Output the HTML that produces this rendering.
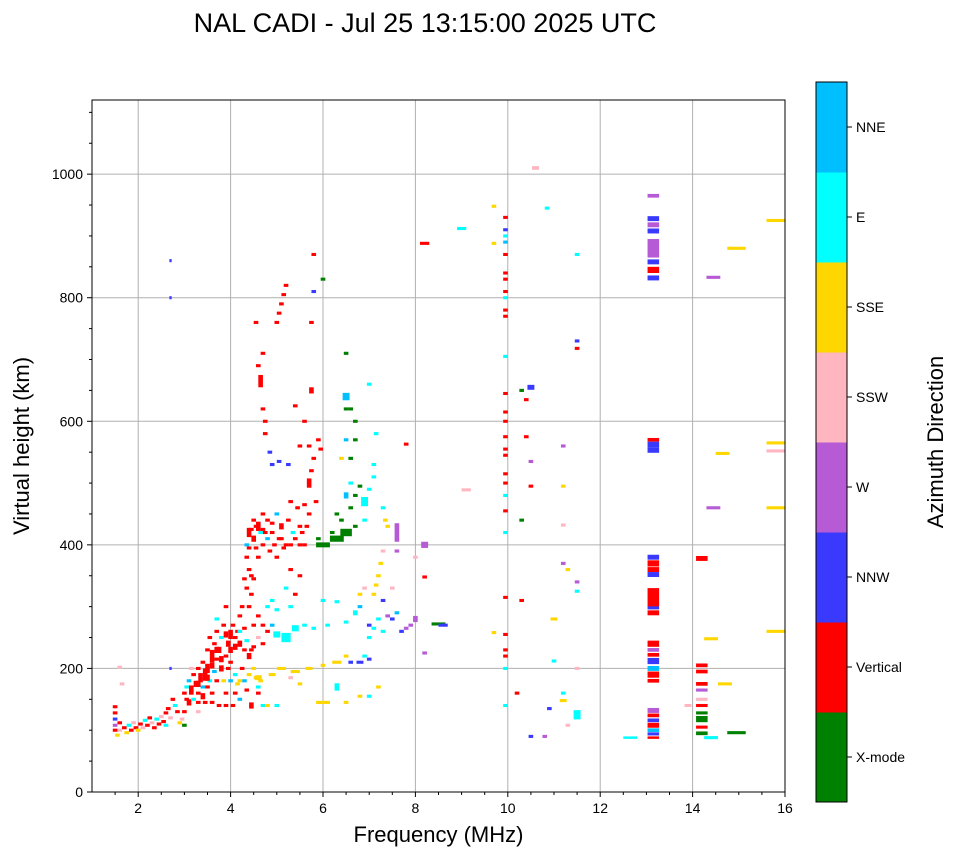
<!DOCTYPE html>
<html><head><meta charset="utf-8"><style>
body{margin:0;background:#fff}
svg{display:block;font-family:"Liberation Sans","DejaVu Sans",sans-serif}
</style></head><body>
<svg id="chart" width="958" height="857" viewBox="0 0 958 857" xmlns="http://www.w3.org/2000/svg">
<text x="425" y="32" font-size="27" text-anchor="middle">NAL CADI - Jul 25 13:15:00 2025 UTC</text>
<g id="grid"></g>
<g id="marks"></g>
<g id="axes"></g>
<g id="cbar"></g>
</svg>
<script>
const xTicks=[2,4,6,8,10,12,14,16];
const yTicks=[0,200,400,600,800,1000];
const dirNames=["X-mode","Vertical","NNW","W","SSW","SSE","E","NNE"];
const dirColors=["#008000","#ff0000","#3a3aff","#b65ad6","#ffb6c1","#ffd700","#00ffff","#00bfff"];
// echoes: freq(MHz) height(km) dirIndex [widthMHz] [heightSpanKm]
const echoRows=`1.5 100 1;1.5 108 3;1.5 118 2;1.5 128 1;1.5 138 1;1.55 92 5;1.6 100 4;1.6 112 1;1.7 104 1;1.75 96 5;1.8 108 6;1.85 100 1;1.9 112 4;1.95 104 1;2.0 100 5;2.05 110 1;2.1 104 4;2.15 116 6;2.2 108 1;2.25 120 1;2.3 112 4;2.35 104 1;2.4 118 6;2.45 110 1;2.5 122 4;2.55 114 1;2.6 128 1;2.6 108 6;2.65 135 1;2.7 120 4;2.75 150 1;2.8 140 6;2.85 130 1;2.9 112 5;2.95 118 4;3.0 130 1;3.0 108 0;3.0 160 1;3.05 150 1;3.05 170 6;3.1 145 1 0.1 10;3.1 180 7;3.15 165 1 0.1 15;3.2 190 1;3.2 150 6;3.25 175 1 0.1 10;3.3 200 1;3.3 160 1;3.3 130 4;3.35 185 1 0.1 15;3.4 210 1;3.4 170 7;3.45 190 1 0.1 20;3.45 145 1;3.5 230 1;3.5 200 1 0.1 15;3.5 170 1;3.55 250 1;3.55 180 6;3.6 220 1 0.1 20;3.6 160 1;3.65 240 1;3.65 195 7;3.7 260 1;3.7 215 1;3.7 180 1;3.75 230 1 0.1 10;3.75 140 1;3.8 200 1 0.1 10;3.8 250 6;3.85 180 5;3.85 270 1;3.9 220 1;3.9 160 1;3.95 240 1 0.1 10;4.0 255 1 0.1 15;4.0 210 1;4.0 180 7;4.05 270 1;4.05 140 1;4.1 235 1 0.1 10;4.1 190 6;4.15 260 1;4.15 175 5;4.2 285 1;4.2 240 1 0.1 10;4.2 150 7;4.25 300 1;4.25 200 1;4.3 265 1;4.3 180 7;4.35 245 6;4.35 165 1;4.4 220 1 0.1 10;4.4 190 5;4.45 230 1;4.45 140 1 0.1 10;4.5 200 5;4.5 270 1;4.55 185 5;4.6 160 1;4.6 250 4;4.65 180 5;4.7 140 6;4.7 270 1;3.3 175 1 0.1 10;3.4 155 1 0.1 10;3.5 185 1 0.1 10;3.6 205 1 0.1 10;3.7 230 1 0.1 10;3.8 215 1 0.1 10;3.9 255 1 0.1 10;3.95 200 1;4.0 230 1 0.1 10;4.1 250 1;4.1 160 1;4.2 260 6;4.3 230 1;4.5 235 1;4.6 285 1;4.7 240 1;4.8 260 1;4.9 270 7;3.3 145 1;3.6 145 1;3.9 140 1;4.2 180 5;4.6 170 6;4.35 330 1;4.35 380 1;4.35 400 7;4.4 420 1 0.1 15;4.4 360 1;4.45 350 1;4.5 440 1;4.5 410 1 0.1 10;4.55 395 1;4.6 430 1 0.1 15;4.6 380 1;4.65 420 6;4.7 400 1;4.7 450 1;4.75 420 1;4.8 410 7;4.8 440 1;4.85 390 1;4.9 420 1;4.95 400 1;5.0 450 7;5.0 380 1;5.05 410 1;5.1 430 1 0.1 10;5.15 395 1;5.2 400 1;5.25 440 1;5.3 470 1;5.35 420 6;5.4 410 1;5.45 460 1;5.5 430 1;5.55 420 1;5.6 400 1;5.65 430 1;5.7 500 1 0.1 15;5.7 450 1;5.75 520 1;5.8 540 1;5.85 470 1;5.6 465 1;5.3 360 1;5.5 350 1;5.2 330 6;5.4 320 1;4.45 425 1;4.55 430 1;4.7 425 1;4.9 435 1;5.1 410 1;5.3 400 1;5.5 400 1;4.4 300 1;4.45 320 1;4.5 345 1;4.4 395 1;4.3 345 1;4.55 760 1;4.6 690 1;4.65 665 1 0.1 20;4.7 620 1;4.75 600 1;4.75 580 1;4.7 710 1;4.85 550 2;5.0 760 1;5.05 775 1;5.1 790 1;5.15 805 1;5.2 820 1;5.4 625 1;5.6 600 1;5.75 650 1 0.1 10;5.75 760 1;5.8 810 2;5.8 870 1;5.7 560 1;5.9 570 1;5.05 535 2;5.25 530 2;4.9 530 2;5.5 560 1;5.95 555 1;5.0 255 6 0.15 10;5.2 250 6 0.2 15;5.4 265 6 0.15 10;5.6 270 6;5.8 265 6;5.0 295 6;5.3 300 6;4.8 300 6;4.9 310 6;4.6 185 5 0.15 8;4.9 190 5 0.15;5.1 200 5 0.2;5.4 195 5 0.2;5.7 200 5 0.15;6.0 205 5;6.3 210 5 0.2;6.6 210 2;6.8 210 2 0.15;7.0 215 2;6.5 220 5;5.5 175 5;5.3 185 4;4.8 140 5;5.0 140 6;6.0 145 5 0.3;6.5 145 5;6.8 155 5;7.0 155 6;7.2 170 5;6.3 170 6 0.1 12;6.0 310 6;6.3 308 6;6.1 270 6;6.5 275 6;6.7 290 6 0.1 8;6.8 300 7;7.0 270 2;7.1 265 6;7.0 250 6;6.9 220 6;7.2 280 6;7.3 260 6;7.1 320 5;7.15 335 5;7.2 350 5;7.25 370 5;7.3 390 4;7.35 440 5;7.4 430 5;7.3 460 6;6.8 320 5;6.9 330 4;7.3 310 2;7.4 285 3;7.5 280 2;7.6 420 3 0.1 30;7.6 390 3;7.5 330 4;7.6 290 7;7.8 265 3;7.9 270 3;8.0 280 3 0.1 10;8.2 400 3 0.15 10;8.5 272 0 0.3;8.6 270 2 0.2;8.2 225 3;7.7 260 2;6.0 400 0 0.3 8;6.3 410 0 0.3 10;6.5 420 0 0.25 12;6.7 430 0;6.4 440 0;6.6 460 0;6.7 480 0;6.8 495 0;6.6 540 0;6.7 570 0;6.7 600 0;6.6 620 0;6.5 640 7 0.15 12;6.5 570 7;6.5 620 0;6.5 710 0;6.0 830 0;6.3 450 0;6.9 440 6;6.9 470 6 0.15 15;7.0 490 6;7.1 530 6;7.15 580 6;7.1 510 6;6.5 480 7 0.1 10;6.6 500 6;6.2 420 0;7.0 660 6;6.4 540 5;5.9 410 0;7.8 563 1;8.2 888 1 0.2;8.2 348 1;8.0 380 4;9.0 912 6 0.2;9.1 489 4 0.2;9.7 948 5;9.7 888 5;9.7 258 5;9.95 930 1;9.95 910 2;9.95 900 6;9.95 890 7;9.95 870 1;9.95 840 1;9.95 830 1;9.95 810 1;9.95 800 6;9.95 780 1;9.95 770 1;9.95 705 6;9.95 645 1;9.95 615 1;9.95 600 1;9.95 575 1;9.95 555 1;9.95 545 1;9.95 515 1;9.95 500 1;9.95 480 6;9.95 455 1;9.95 420 6;9.95 315 1;9.95 255 1;9.95 230 1;9.95 220 1;9.95 200 6;9.95 140 6;10.3 310 1;10.3 440 0;10.2 160 1;10.3 650 0;10.4 635 1;10.4 575 1;10.5 655 2 0.15 8;10.6 1010 4 0.15 6;10.5 535 3;10.5 495 1;10.5 90 2;10.8 90 3;10.85 945 6;10.9 135 2;11.0 212 6;11.2 560 3;11.2 495 5;11.2 432 4;11.2 370 3;11.3 360 5;11.0 280 5 0.15;11.2 160 6;11.2 148 5 0.15;11.3 108 4;11.5 340 3;11.5 325 6;11.5 200 4;11.5 870 6;11.5 730 2;11.5 718 1;11.5 125 6 0.15 15;12.65 88 6 0.3 4;14.45 460 3 0.3;14.45 833 3 0.3;14.4 248 5 0.3;14.4 88 6 0.3;14.7 175 5 0.3;14.95 880 5 0.4;14.95 96 0 0.4;15.8 925 5 0.4;15.8 565 5 0.4;15.8 552 4 0.4;15.8 460 5 0.4;15.8 260 5 0.4;14.65 548 5 0.3;13.9 140 4 0.15;13.15 965 3 0.25 6;13.15 928 2 0.25 8;13.15 918 3 0.25 8;13.15 908 2 0.25 8;13.15 880 3 0.25 30;13.15 858 2 0.25 8;13.15 845 1 0.25 10;13.15 832 2 0.25 8;13.15 570 1 0.25 6;13.15 562 2 0.25 10;13.15 553 2 0.25 8;13.15 380 2 0.25 8;13.15 370 1 0.25 10;13.15 360 1 0.25 8;13.15 352 2 0.25 8;13.15 315 1 0.25 30;13.15 298 2 0.25 5;13.15 290 1 0.25 8;13.15 240 1 0.25 10;13.15 230 3 0.25 6;13.15 222 1 0.25 6;13.15 212 2 0.25 10;13.15 200 7 0.25 8;13.15 190 1 0.25 10;13.15 180 1 0.25 6;13.15 132 3 0.25 8;13.15 124 1 0.25 6;13.15 116 2 0.25 6;13.15 108 1 0.25 8;13.15 100 7 0.25 6;13.15 94 2 0.25 5;13.15 88 1 0.25 4;14.2 378 1 0.25 8;14.2 205 1 0.25 6;14.2 195 1 0.25 6;14.2 175 1 0.25 6;14.2 165 3 0.25 5;14.2 150 4 0.25 5;14.2 140 1 0.25 5;14.2 128 0 0.25 5;14.2 118 0 0.25 10;14.2 105 1 0.25 5;14.2 95 0 0.25 6;1.65 175 4;1.6 202 4;2.7 860 2 0.05;2.7 800 2 0.05;2.7 200 2 0.05;3.15 200 4;3.7 280 6;3.9 300 1`;
const echoFreq=[],echoHeight=[],echoDir=[],echoWidth=[],echoSpan=[];
echoRows.split(";").forEach(r=>{const p=r.trim().split(/\s+/).map(Number);
 echoFreq.push(p[0]);echoHeight.push(p[1]);echoDir.push(p[2]);echoWidth.push(p[3]||0.1);echoSpan.push(p[4]||5);});

const NS="http://www.w3.org/2000/svg";
const L=92,R=785,T=100,B=792,xMin=1,xMax=16,yMin=0,yMax=1120;
const X=f=>L+(f-xMin)/(xMax-xMin)*(R-L);
const Y=h=>B-(h-yMin)/(yMax-yMin)*(B-T);
function mk(tag,attrs,parent){const e=document.createElementNS(NS,tag);for(const k in attrs)e.setAttribute(k,attrs[k]);parent.appendChild(e);return e;}
const grid=document.getElementById('grid'),marks=document.getElementById('marks'),axes=document.getElementById('axes'),cb=document.getElementById('cbar');
xTicks.forEach(t=>{const l=mk('line',{x1:X(t),x2:X(t),y1:T,y2:B,stroke:'#b0b0b0','stroke-width':1},grid);
 
 });
yTicks.forEach(t=>{const l=mk('line',{x1:L,x2:R,y1:Y(t),y2:Y(t),stroke:'#b0b0b0','stroke-width':1},grid);
 
 });
for(let i=0;i<echoFreq.length;i++){
 const w=echoWidth[i],s=echoSpan[i];
 const r=mk('rect',{x:X(echoFreq[i]-w/2),y:Y(echoHeight[i]+s/2),width:Math.max(1.5,X(echoFreq[i]+w/2)-X(echoFreq[i]-w/2)),height:Math.max(2,Y(echoHeight[i]-s/2)-Y(echoHeight[i]+s/2)),fill:dirColors[echoDir[i]]},marks);
 
 
}
const frame=mk('rect',{x:L,y:T,width:R-L,height:B-T,fill:'none',stroke:'#000','stroke-width':1},axes);


xTicks.forEach(t=>{mk('line',{x1:X(t),x2:X(t),y1:B,y2:B+5,stroke:'#000'},axes);
 const tx=mk('text',{x:X(t),y:B+21,'font-size':14,'text-anchor':'middle'},axes);tx.textContent=t;
 
 });
for(let f=1.5;f<16;f+=0.5){if(f%2)mk('line',{x1:X(f),x2:X(f),y1:B,y2:B+3,stroke:'#000'},axes);}
yTicks.forEach(t=>{mk('line',{x1:L-5,x2:L,y1:Y(t),y2:Y(t),stroke:'#000'},axes);
 const tx=mk('text',{x:L-9,y:Y(t)+5,'font-size':14,'text-anchor':'end'},axes);tx.textContent=t;
 
 });
for(let h=50;h<1120;h+=50){if(h%200)mk('line',{x1:L-3,x2:L,y1:Y(h),y2:Y(h),stroke:'#000'},axes);}
const xt=mk('text',{x:(L+R)/2,y:842,'font-size':22,'text-anchor':'middle'},axes);xt.textContent='Frequency (MHz)';


const yt=mk('text',{x:0,y:0,'font-size':22,'text-anchor':'middle',transform:'translate(29,446) rotate(-90)'},axes);yt.textContent='Virtual height (km)';


const cbT=82,cbB=802,cbL=816,cbW=31,bh=(cbB-cbT)/8;
for(let i=0;i<8;i++){
 const y0=cbB-(i+1)*bh;
 const r=mk('rect',{x:cbL,y:y0,width:cbW,height:bh+0.5,fill:dirColors[i]},cb);
 
 
 mk('line',{x1:cbL+cbW,x2:cbL+cbW+5,y1:y0+bh/2,y2:y0+bh/2,stroke:'#000'},cb);
 const t=mk('text',{x:cbL+cbW+9,y:y0+bh/2+5,'font-size':14},cb);t.textContent=dirNames[i];
 
 
}
mk('rect',{x:cbL,y:cbT,width:cbW,height:cbB-cbT,fill:'none',stroke:'#000','stroke-width':1},cb);
const ct=mk('text',{x:0,y:0,'font-size':22,'text-anchor':'middle',transform:'translate(943,442) rotate(-90)'},cb);ct.textContent='Azimuth Direction';


</script>
</body></html>
